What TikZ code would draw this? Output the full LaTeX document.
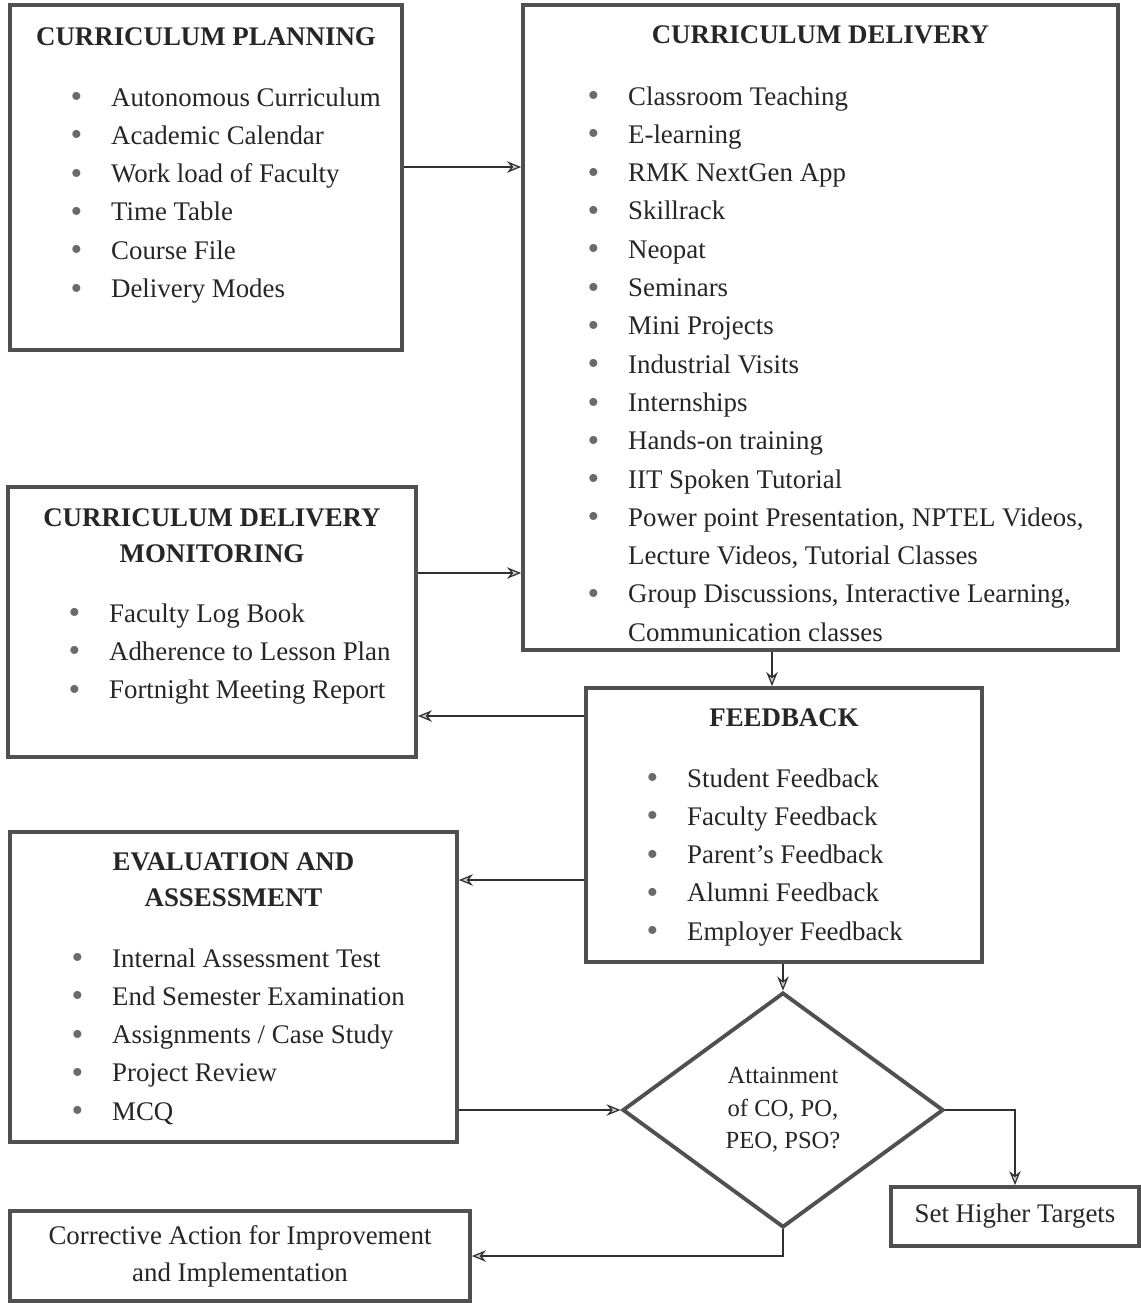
\documentclass[tikz,border=0pt]{standalone}
\usepackage{fontspec}
\setmainfont{Liberation Serif}
\definecolor{CInk}{HTML}{262626}
\definecolor{CFrame}{HTML}{505050}
\definecolor{CDot}{HTML}{6A6A6A}
\definecolor{CLink}{HTML}{303030}
\usetikzlibrary{arrows.meta,positioning,calc,shapes.geometric}
\newcommand{\itm}[1]{\makebox[0.81cm][l]{\textcolor{CDot}{%
    \raisebox{-0.06em}{\fontsize{19}{19}\selectfont •}}}#1}
\newcommand{\cont}[1]{\hspace*{0.81cm}#1}

\begin{document}
\begin{tikzpicture}[x=0.02cm,y=-0.02cm,
    box/.style={rectangle,draw=CFrame,line width=2.2pt,inner sep=0pt,
      text=CInk,font=\fontsize{15.3}{21}\selectfont,align=center},
    head/.style={anchor=base,inner sep=0pt,text=CInk,
      font=\fontsize{15.3}{20.7}\selectfont\bfseries},
    list/.style={anchor=base west,inner sep=0pt,text=CInk,
      font=\fontsize{15.3}{21.8}\selectfont},
    decide/.style={diamond,draw=CFrame,line width=2.2pt,inner sep=0pt,
      text=CInk,font=\fontsize{14}{18.4}\selectfont,align=center},
    flow/.style={draw=CLink,line width=0.7pt,
      -{Stealth[length=8pt,width=6.5pt,fill=CDot!35]}}]
  \useasboundingbox (0,0) rectangle (1141,1303);

  % boxes
  \node[box,minimum width=7.84cm,minimum height=6.9cm] (plan) at (206,177.5) {};
  \node[box,minimum width=11.9cm,minimum height=12.9cm] (deliv) at (820.5,327.5) {};
  \node[box,minimum width=8.16cm,minimum height=5.4cm] (monit) at (212,622) {};
  \node[box,minimum width=7.92cm,minimum height=5.48cm] (feed) at (784,825) {};
  \node[box,minimum width=8.94cm,minimum height=6.2cm] (eval) at (233.5,987) {};
  \node[decide,minimum width=6.42cm,minimum height=4.7cm] (attain) at (783,1110)
    {Attainment\\of CO, PO,\\PEO, PSO?};
  \node[box,minimum width=4.96cm,minimum height=1.18cm] (target) at (1015,1216.5)
    {Set Higher Targets};
  \node[box,minimum width=9.2cm,minimum height=1.8cm] (correct) at (240,1256)
    {Corrective Action for Improvement\\and Implementation};

  % headings
  \node[head] (planT) at (206,45) {CURRICULUM PLANNING};
  \node[head] (delivT) at (820.5,43) {CURRICULUM DELIVERY};
  \node[head] (monitT) at (212,526) {\begin{tabular}[t]{@{}c@{}}
      CURRICULUM DELIVERY\\ MONITORING\end{tabular}};
  \node[head] (feedT) at (784,726) {FEEDBACK};
  \node[head] (evalT) at (233.5,870) {\begin{tabular}[t]{@{}c@{}}
      EVALUATION AND\\ ASSESSMENT\end{tabular}};

  % item lists
  \node[list] (planL) at (70.3,106) {\begin{tabular}[t]{@{}l@{}}
      \itm{Autonomous Curriculum}\\
      \itm{Academic Calendar}\\
      \itm{Work load of Faculty}\\
      \itm{Time Table}\\
      \itm{Course File}\\
      \itm{Delivery Modes}
    \end{tabular}};
  \node[list] (delivL) at (587.3,105) {\begin{tabular}[t]{@{}l@{}}
      \itm{Classroom Teaching}\\
      \itm{E-learning}\\
      \itm{RMK NextGen App}\\
      \itm{Skillrack}\\
      \itm{Neopat}\\
      \itm{Seminars}\\
      \itm{Mini Projects}\\
      \itm{Industrial Visits}\\
      \itm{Internships}\\
      \itm{Hands-on training}\\
      \itm{IIT Spoken Tutorial}\\
      \itm{Power point Presentation, NPTEL Videos,}\\
      \cont{Lecture Videos, Tutorial Classes}\\
      \itm{Group Discussions, Interactive Learning,}\\
      \cont{Communication classes}
    \end{tabular}};
  \node[list] (monitL) at (68.3,622) {\begin{tabular}[t]{@{}l@{}}
      \itm{Faculty Log Book}\\
      \itm{Adherence to Lesson Plan}\\
      \itm{Fortnight Meeting Report}
    \end{tabular}};
  \node[list] (feedL) at (646.3,787) {\begin{tabular}[t]{@{}l@{}}
      \itm{Student Feedback}\\
      \itm{Faculty Feedback}\\
      \itm{Parent’s Feedback}\\
      \itm{Alumni Feedback}\\
      \itm{Employer Feedback}
    \end{tabular}};
  \node[list] (evalL) at (71.3,967) {\begin{tabular}[t]{@{}l@{}}
      \itm{Internal Assessment Test}\\
      \itm{End Semester Examination}\\
      \itm{Assignments / Case Study}\\
      \itm{Project Review}\\
      \itm{MCQ}
    \end{tabular}};

  % connectors
  \draw[flow] (plan.east |- 0,167) -- (deliv.west |- 0,167);
  \draw[flow] (monit.east |- 0,573) -- (deliv.west |- 0,573);
  \draw[flow] (deliv.south -| 772,0) -- (feed.north -| 772,0);
  \draw[flow] (feed.west |- 0,716) -- (monit.east |- 0,716);
  \draw[flow] (feed.west |- 0,880) -- (eval.east |- 0,880);
  \draw[flow] (feed.south -| attain.north) -- (attain.north);
  \draw[flow] (eval.east |- attain.west) -- (attain.west);
  \draw[flow] (attain.east) -| (target.north);
  \draw[flow] (attain.south) |- (correct.east);
\end{tikzpicture}
\end{document}
